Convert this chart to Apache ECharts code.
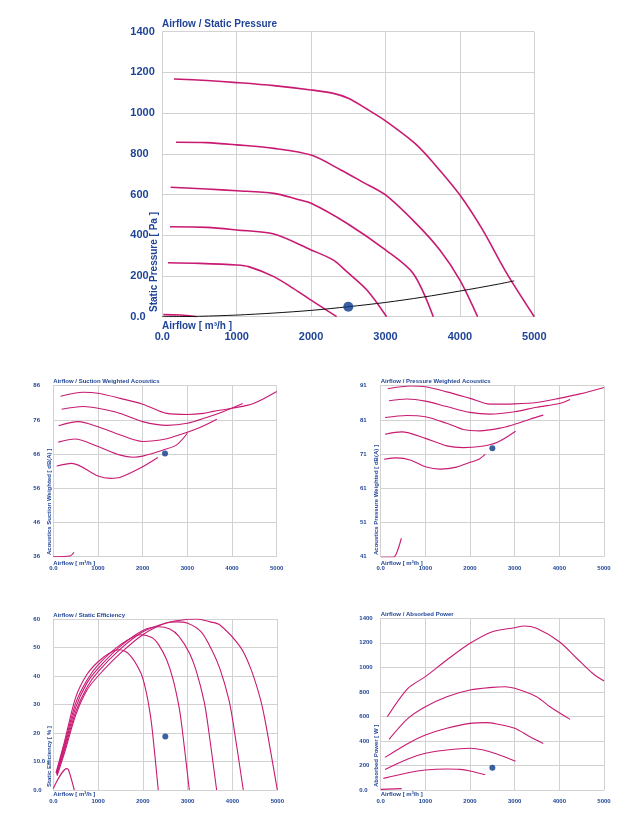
<!DOCTYPE html>
<html>
<head>
<meta charset="utf-8">
<title>Fan curves</title>
<script src="https://cdn.jsdelivr.net/npm/echarts@6/dist/echarts.min.js"></script>
<style>
  html, body { margin: 0; padding: 0; background: #fff; }
  #main { width: 638px; height: 820px; }
</style>
</head>
<body>
<div id="main"></div>
<script>
// tick labels
const airflowTicks = ['0.0', '1000', '2000', '3000', '4000', '5000']
const pressureTicks = ['0.0', '200', '400', '600', '800', '1000', '1200', '1400']
const suctionTicks = ['36', '46', '56', '66', '76', '86']
const pressDbTicks = ['41', '51', '61', '71', '81', '91']
const efficiencyTicks = ['0.0', '10.0', '20', '30', '40', '50', '60']
const powerTicks = ['0.0', '200', '400', '600', '800', '1000', '1200', '1400']

// airflow / static pressure  [m3/h, Pa]
const staticPressure = [
  [[157, 1168], [600, 1160], [1000, 1150], [1500, 1135], [2000, 1114], [2300, 1097], [2500, 1073], [2750, 1020], [3000, 962], [3400, 850], [3650, 753], [4000, 598], [4300, 430], [4630, 213], [5000, 0]],
  [[184, 857], [600, 855], [1000, 844], [1500, 827], [2000, 794], [2400, 721], [2700, 660], [3000, 598], [3400, 462], [3730, 328], [4000, 180], [4238, 0]],
  [[112, 636], [600, 627], [1000, 619], [1500, 606], [1800, 578], [2000, 557], [2480, 459], [3000, 328], [3370, 213], [3642, 0]],
  [[103, 442], [600, 439], [1000, 426], [1500, 406], [2000, 328], [2300, 278], [2480, 221], [2750, 131], [3015, 0]],
  [[76, 265], [500, 262], [1000, 254], [1160, 246], [1500, 197], [1760, 139], [2030, 74], [2343, 0]],
  [[13, 10], [240, 8], [461, 0]]
]
const systemCurve = [[0, 0], [500, 2], [1000, 8], [1500, 18], [2000, 31], [2500, 49], [3000, 70], [3500, 96], [4000, 126], [4500, 159], [4730, 176]]

// airflow / suction weighted acoustics  [dB(A)]
const suctionDb = [
  [[164, 82.9], [670, 84.1], [1000, 83.8], [1500, 82.3], [2000, 80.6], [2540, 77.9], [3000, 77.6], [3360, 77.9], [3580, 78.5], [4000, 79.4], [4480, 80.8], [5000, 84.3]],
  [[187, 79.1], [670, 79.9], [1000, 79.4], [1500, 77.9], [2000, 75.5], [2540, 74.4], [3000, 75.0], [3430, 76.7], [3800, 78.4], [4240, 80.8]],
  [[119, 74.3], [560, 75.5], [1000, 74.0], [1500, 71.6], [2000, 69.7], [2540, 70.5], [3000, 72.4], [3320, 74.0], [3660, 76.2]],
  [[112, 69.5], [485, 70.4], [1000, 68.2], [1500, 65.7], [1790, 65.1], [2000, 65.4], [2460, 67.2], [2760, 68.7], [3000, 72.1]],
  [[75, 62.5], [410, 63.3], [1000, 59.6], [1270, 58.9], [1500, 59.2], [2000, 62.3], [2340, 65.0]],
  [[0, 36], [370, 36.2], [463, 37.3]]
]

// airflow / pressure weighted acoustics  [dB(A)]
const pressureDb = [
  [[157, 90.1], [660, 90.9], [1000, 90.7], [1480, 89.2], [2000, 87.3], [2450, 85.6], [3000, 85.7], [3490, 86.1], [4000, 87.3], [4460, 88.6], [5000, 90.5]],
  [[187, 86.6], [580, 87.1], [1000, 86.5], [1480, 84.9], [2000, 83.2], [2450, 82.7], [3000, 83.4], [3490, 84.7], [4000, 85.8], [4240, 87.0]],
  [[97, 81.7], [580, 82.3], [1000, 81.9], [1480, 80.0], [1850, 78.2], [2220, 77.8], [2750, 78.8], [3000, 79.7], [3340, 81.2], [3640, 82.4]],
  [[97, 76.8], [470, 77.5], [1000, 75.6], [1480, 73.4], [1850, 72.9], [2220, 73.2], [2600, 74.4], [3020, 77.7]],
  [[75, 69.5], [360, 69.9], [660, 69.3], [1000, 67.3], [1330, 66.6], [1700, 67.2], [2000, 68.6], [2190, 69.4], [2340, 70.9]],
  [[0, 40.8], [280, 40.8], [360, 42.2], [463, 46.4]]
]

// airflow / static efficiency  [%]
const efficiency = [
  [[60, 6], [250, 17], [500, 32.5], [750, 40.5], [1000, 45], [1250, 48], [1480, 49.2], [1700, 47.5], [1950, 41.2], [2060, 35.4], [2160, 27], [2215, 20.2], [2343, 0]],
  [[70, 6], [250, 16], [500, 30.5], [750, 38.5], [1000, 43.9], [1500, 51], [1950, 54.5], [2200, 53.5], [2350, 51], [2530, 45.7], [2670, 39], [2800, 29.7], [2870, 22.3], [3036, 0]],
  [[75, 5.5], [250, 15], [500, 29], [750, 37.5], [1000, 42.7], [1500, 50.5], [2000, 56], [2350, 57.3], [2600, 56.5], [2800, 54], [3040, 48], [3200, 41.3], [3365, 31.2], [3445, 23.5], [3646, 0]],
  [[80, 5.5], [250, 14], [500, 27.5], [750, 36], [1000, 41.5], [1500, 49.5], [2000, 55.5], [2500, 58.5], [2750, 59], [3000, 58.5], [3300, 55.5], [3530, 49.4], [3720, 42.5], [3915, 32], [4010, 24], [4241, 0]],
  [[85, 5], [250, 13], [500, 26.3], [750, 35], [1000, 40], [1500, 48], [2000, 54.5], [2500, 58.5], [3000, 59.9], [3200, 60], [3500, 59], [3720, 57.9], [4170, 50.3], [4390, 43.3], [4610, 32.7], [4725, 24.6], [5000, 0]],
  [[0, 0.5], [300, 7.5], [340, 7], [469, 0]]
]

// airflow / absorbed power  [W]
const absorbedPower = [
  [[150, 598], [610, 829], [1000, 924], [1480, 1060], [2000, 1196], [2500, 1291], [3000, 1323], [3210, 1337], [3490, 1318], [4000, 1209], [4400, 1070], [4750, 950], [5000, 889]],
  [[187, 413], [610, 584], [1000, 679], [1480, 761], [2000, 815], [2500, 837], [2780, 842], [3000, 829], [3490, 761], [3790, 679], [4240, 576]],
  [[97, 266], [610, 380], [1000, 448], [1480, 503], [2000, 543], [2370, 549], [2600, 538], [3000, 503], [3340, 435], [3640, 380]],
  [[97, 168], [610, 253], [1000, 299], [1480, 326], [2000, 340], [2300, 326], [2600, 293], [3020, 234]],
  [[60, 95], [610, 141], [1000, 163], [1480, 171], [1780, 168], [2000, 155], [2340, 125]],
  [[0, 5], [470, 11]]
]

// operating point, one per chart
const operatingPoint = [[2500, 49], [2500, 66.2], [2500, 72.7], [2500, 18.8], [2500, 182]]

const BLUE = '#1f4496'
const PINK = '#c81a72'
const GRID = '#d2d2d2'
const FONT = '"Liberation Sans", Arial, Helvetica, sans-serif'

// plot areas in px: top big chart, then the four small ones
const grids = [
  { left: 162.3, top: 31.7, width: 372, height: 285 },
  { left: 53.3, top: 385.7, width: 223.4, height: 171 },
  { left: 380.7, top: 385.7, width: 223.3, height: 171 },
  { left: 53.3, top: 619, width: 224, height: 171 },
  { left: 380.7, top: 618.3, width: 223.3, height: 171.7 }
]

function xAxisFor(i) {
  const small = i > 0
  return {
    type: 'value', gridIndex: i, min: 0, max: 5000, interval: 1000,
    axisLine: { lineStyle: { color: GRID } },
    axisTick: { show: false },
    splitLine: { lineStyle: { color: GRID } },
    axisLabel: {
      color: BLUE, fontFamily: FONT, fontWeight: 'bold',
      fontSize: small ? 6 : 11, margin: small ? 8.5 : 15,
      formatter: (v, idx) => airflowTicks[idx]
    }
  }
}

function yAxisFor(i, min, max, interval, ticks, margin) {
  const small = i > 0
  return {
    type: 'value', gridIndex: i, min: min, max: max, interval: interval,
    axisLine: { show: true, lineStyle: { color: GRID } },
    axisTick: { show: false },
    splitLine: { lineStyle: { color: GRID } },
    axisLabel: {
      color: BLUE, fontFamily: FONT, fontWeight: 'bold',
      fontSize: small ? 6 : 11, margin: margin, align: 'left',
      formatter: (v, idx) => ticks[idx]
    }
  }
}

function curve(data, i, color, width) {
  return {
    type: 'line', xAxisIndex: i, yAxisIndex: i, data: data,
    showSymbol: false, smooth: 0.3, silent: true,
    lineStyle: { color: color, width: width }
  }
}

function text(str, x, y, size, vertical) {
  return {
    type: 'text', x: x, y: y, rotation: vertical ? Math.PI / 2 : 0, silent: true,
    style: {
      text: str, fill: BLUE, fontFamily: FONT, fontWeight: 'bold', fontSize: size,
      align: 'left', verticalAlign: 'middle'
    }
  }
}

const series = []
staticPressure.forEach(d => series.push(curve(d, 0, PINK, 1.6)))
series.push(curve(systemCurve, 0, '#111', 1))
suctionDb.forEach(d => series.push(curve(d, 1, PINK, 1.1)))
pressureDb.forEach(d => series.push(curve(d, 2, PINK, 1.1)))
efficiency.forEach(d => series.push(curve(d, 3, PINK, 1.1)))
absorbedPower.forEach(d => series.push(curve(d, 4, PINK, 1.1)))
operatingPoint.forEach((p, i) => {
  series.push({
    type: 'scatter', xAxisIndex: i, yAxisIndex: i, data: [p],
    symbolSize: i === 0 ? 10 : 6, silent: true, z: 5,
    itemStyle: { color: '#0b3a8c' }
  })
})

const option = {
  backgroundColor: '#ffffff',
  animation: false,
  grid: grids,
  xAxis: [0, 1, 2, 3, 4].map(xAxisFor),
  yAxis: [
    yAxisFor(0, 0, 1400, 200, pressureTicks, 32),
    yAxisFor(1, 36, 86, 10, suctionTicks, 20),
    yAxisFor(2, 41, 91, 10, pressDbTicks, 20.7),
    yAxisFor(3, 0, 60, 10, efficiencyTicks, 20),
    yAxisFor(4, 0, 1400, 200, powerTicks, 21.4)
  ],
  graphic: [
    text('Airflow / Static Pressure', 162, 24.5, 10),
    text('Airflow [ m³/h ]', 162, 326.5, 10),
    text('Static Pressure [ Pa ]', 154, 312, 10, true),

    text('Airflow / Suction Weighted Acoustics', 53.3, 381.7, 6),
    text('Airflow [ m³/h ]', 53.3, 563, 6),
    text('Acoustics Suction Weighted [ dB(A) ]', 49.3, 555, 6, true),

    text('Airflow / Pressure Weighted Acoustics', 380.7, 381.7, 6),
    text('Airflow [ m³/h ]', 380.7, 563, 6),
    text('Acoustics Pressure Weighted [ dB(A) ]', 376.7, 555, 6, true),

    text('Airflow / Static Efficiency', 53.3, 615, 6),
    text('Airflow [ m³/h ]', 53.3, 794.2, 6),
    text('Static Efficiency [ % ]', 49.3, 787, 6, true),

    text('Airflow / Absorbed Power', 380.7, 614.7, 6),
    text('Airflow [ m³/h ]', 380.7, 794.2, 6),
    text('Absorbed Power [ W ]', 376.3, 787, 6, true)
  ],
  series: series
}

const chart = echarts.init(document.getElementById('main'), null, { renderer: 'canvas' })
chart.setOption(option)
</script>
</body>
</html>
